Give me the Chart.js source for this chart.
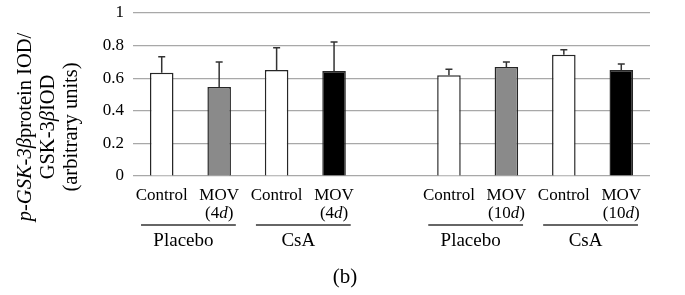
<!DOCTYPE html>
<html>
<head>
<meta charset="utf-8">
<script src="https://cdn.jsdelivr.net/npm/chart.js@4.4.1/dist/chart.umd.min.js"></script>
<style>
  body { margin: 0; background: #fff; }
</style>
</head>
<body>
<canvas id="chart" width="685" height="295"></canvas>
<script>
// data
const categories = ['Control', 'MOV', 'Control', 'MOV', '', 'Control', 'MOV', 'Control', 'MOV'];
const durations = ['', '4', '', '4', '', '', '10', '', '10'];
const means = [0.634, 0.546, 0.65, 0.644, null, 0.618, 0.669, 0.744, 0.65];
const errors = [0.098, 0.154, 0.137, 0.178, null, 0.037, 0.031, 0.031, 0.037];
const barColors = ['#ffffff', '#8a8a8a', '#ffffff', '#000000', '#ffffff', '#ffffff', '#8a8a8a', '#ffffff', '#000000'];
const groupNames = ['Placebo', 'CsA', 'Placebo', 'CsA'];
const groupStart = [0, 2, 5, 7];
const groupEnd = [1, 3, 6, 8];
const yTicks = [0, 0.2, 0.4, 0.6, 0.8, 1];

const serif = "'Liberation Serif', 'Times New Roman', serif";

// draw a line made of plain/italic pieces, centred on x
function drawRuns(ctx, runs, x, y, size) {
    let total = 0;
    runs.forEach(r => {
        ctx.font = (r.italic ? 'italic ' : '') + size + 'px ' + serif;
        r.w = ctx.measureText(r.t).width;
        total += r.w;
    });
    let cx = x - total / 2;
    ctx.textAlign = 'left';
    runs.forEach(r => {
        ctx.font = (r.italic ? 'italic ' : '') + size + 'px ' + serif;
        ctx.fillText(r.t, cx, y);
        cx += r.w;
    });
}

const errorBars = {
    id: 'errorBars',
    afterDatasetsDraw(chart) {
        const ctx = chart.ctx;
        const y = chart.scales.y;
        const meta = chart.getDatasetMeta(0);
        ctx.save();
        ctx.strokeStyle = '#333333';
        ctx.lineWidth = 1.5;
        means.forEach((m, i) => {
            if (m === null) return;
            const x = meta.data[i].x;
            const top = y.getPixelForValue(m + errors[i]);
            const base = y.getPixelForValue(m);
            ctx.beginPath();
            ctx.moveTo(x, base);
            ctx.lineTo(x, top);
            ctx.moveTo(x - 3.5, top);
            ctx.lineTo(x + 3.5, top);
            ctx.stroke();
        });
        ctx.restore();
    }
};

const textLayer = {
    id: 'textLayer',
    afterDraw(chart) {
        const ctx = chart.ctx;
        const xs = chart.scales.x;
        const area = chart.chartArea;
        const step = xs.getPixelForValue(1) - xs.getPixelForValue(0);
        ctx.save();
        ctx.fillStyle = '#000';
        ctx.textBaseline = 'alphabetic';

        // category labels
        categories.forEach((c, i) => {
            if (!c) return;
            const x = xs.getPixelForValue(i);
            drawRuns(ctx, [{ t: c }], x, area.bottom + 24, 17);
            if (durations[i]) {
                drawRuns(ctx, [{ t: '(' + durations[i] }, { t: 'd', italic: true }, { t: ')' }], x, area.bottom + 42, 17);
            }
        });

        // group lines and names
        ctx.strokeStyle = '#333';
        ctx.lineWidth = 1.5;
        groupNames.forEach((g, k) => {
            const x0 = xs.getPixelForValue(groupStart[k]) - step * 0.36;
            const x1 = xs.getPixelForValue(groupEnd[k]) + step * 0.29;
            ctx.beginPath();
            ctx.moveTo(x0, area.bottom + 49);
            ctx.lineTo(x1, area.bottom + 49);
            ctx.stroke();
            drawRuns(ctx, [{ t: g }], (x0 + x1) / 2 - 5, area.bottom + 70, 19);
        });

        drawRuns(ctx, [{ t: '(b)' }], 345, 283, 21);

        // y axis title
        const lines = [
            [{ t: 'p-GSK-3β', italic: true }, { t: 'protein IOD/' }],
            [{ t: 'GSK-3' }, { t: 'β', italic: true }, { t: 'IOD' }],
            [{ t: '(arbitrary units)' }]
        ];
        const lineX = [26, 49, 72];
        ctx.textBaseline = 'middle';
        lines.forEach((runs, k) => {
            ctx.save();
            ctx.translate(lineX[k], 127);
            ctx.rotate(-Math.PI / 2);
            drawRuns(ctx, runs, 0, 0, 20.5);
            ctx.restore();
        });
        ctx.restore();
    }
};

const ctx = document.getElementById('chart').getContext('2d');

const config = {
    type: 'bar',
    data: {
        labels: categories,
        datasets: [{
            data: means,
            backgroundColor: barColors,
            borderColor: '#262626',
            borderWidth: 1.5,
            barPercentage: 0.41,
            categoryPercentage: 1
        }]
    },
    options: {
        responsive: false,
        animation: false,
        devicePixelRatio: 1,
        layout: { padding: { left: 0, right: 35, top: 13, bottom: 119 } },
        scales: {
            x: {
                afterFit(scale) { scale.height = 0; },
                grid: { display: false, drawTicks: false },
                border: { display: false },
                ticks: { display: false }
            },
            y: {
                min: 0,
                max: 1,
                afterFit(scale) {
                    scale.width = 133;
                    scale.paddingTop = 0;
                    scale.paddingBottom = 0;
                },
                afterBuildTicks(scale) { scale.ticks = yTicks.map(v => ({ value: v })); },
                border: { display: false },
                grid: { color: '#a8a8a8', lineWidth: 1.2, drawTicks: false },
                ticks: {
                    padding: 9,
                    color: '#000',
                    font: { family: serif, size: 17 },
                    callback: v => (v === 0 || v === 1) ? String(v) : v.toFixed(1)
                }
            }
        },
        plugins: {
            legend: { display: false },
            tooltip: { enabled: false }
        }
    },
    plugins: [errorBars, textLayer]
};

const chart = new Chart(ctx, config);
</script>
</body>
</html>
